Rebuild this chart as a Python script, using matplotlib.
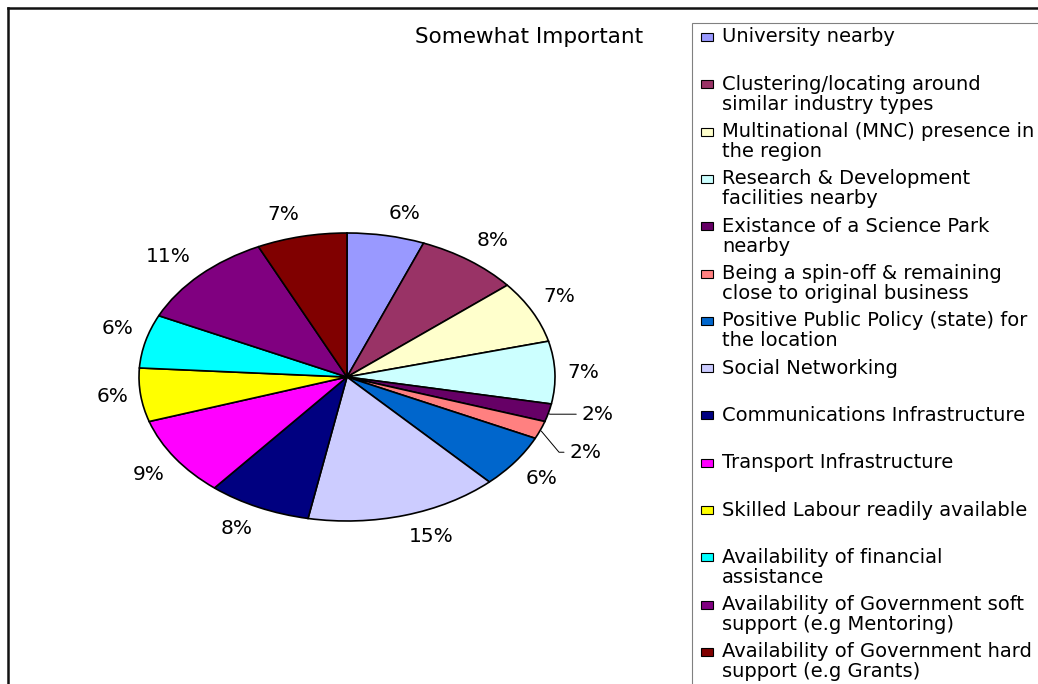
import numpy as np
import matplotlib
matplotlib.use("Agg")
import matplotlib.pyplot as plt
from matplotlib.patches import Rectangle
from matplotlib.lines import Line2D

plt.rcParams['font.family'] = ['DejaVu Sans']

# Survey shares, "Somewhat Important"
factors = [
    "University nearby",
    "Clustering/locating around\nsimilar industry types",
    "Multinational (MNC) presence in\nthe region",
    "Research & Development\nfacilities nearby",
    "Existance of a Science Park\nnearby",
    "Being a spin-off & remaining\nclose to original business",
    "Positive Public Policy (state) for\nthe location",
    "Social Networking",
    "Communications Infrastructure",
    "Transport Infrastructure",
    "Skilled Labour readily available",
    "Availability of financial\nassistance",
    "Availability of Government soft\nsupport (e.g Mentoring)",
    "Availability of Government hard\nsupport (e.g Grants)",
]
shares = [6, 8, 7, 7, 2, 2, 6, 15, 8, 9, 6, 6, 11, 7]
colors = ['#9999FF', '#993366', '#FFFFCC', '#CCFFFF', '#660066', '#FF8080',
          '#0066CC', '#CCCCFF', '#000080', '#FF00FF', '#FFFF00', '#00FFFF',
          '#800080', '#800000']

W, H = 1038, 684
fig = plt.figure(figsize=(W / 100, H / 100), dpi=100)


def fx(x):
    return x / W


def fy(y):
    return 1 - y / H


# outer chart border (left and top edges visible)
fig.add_artist(Line2D([fx(8), fx(8)], [0, fy(8)], color='#111111', lw=1.8))
fig.add_artist(Line2D([fx(8), 1], [fy(8), fy(8)], color='#111111', lw=1.8))

# pie, stretched into an ellipse
cx, cy, rx, ry = 347, 377, 208, 144
ax = fig.add_axes([fx(cx - rx), fy(cy + ry), 2 * rx / W, 2 * ry / H])
wedges, _ = ax.pie(shares, colors=colors, startangle=90, counterclock=False,
                   wedgeprops=dict(edgecolor='black', linewidth=1.2))
ax.set_aspect('auto')
ax.set_xlim(-1, 1)
ax.set_ylim(-1, 1)
ax.axis('off')

# percentage labels outside the rim
leader = {4: (24, -1), 5: (21, -16)}
for i, w in enumerate(wedges):
    mid = np.deg2rad((w.theta1 + w.theta2) / 2)
    c, s = np.cos(mid), np.sin(mid)
    txt = f"{shares[i]}%"
    if i in leader:
        ax.annotate(txt, xy=(c, s), xytext=leader[i], textcoords='offset points',
                    ha='left', va='center', fontsize=14.5,
                    arrowprops=dict(arrowstyle='-', color='black', lw=0.7,
                                    shrinkA=2, shrinkB=1,
                                    connectionstyle='angle,angleA=0,angleB=-50,rad=0'))
        continue
    ha = 'left' if c >= 0 else 'right'
    if s > 0.2:
        va = 'bottom'
    elif s < -0.3:
        va = 'top'
    else:
        va = 'center'
    ax.annotate(txt, xy=(c, s), xytext=(c * 9, s * 9), textcoords='offset points',
                ha=ha, va=va, fontsize=14.5)

fig.text(fx(529), fy(37), "Somewhat Important", ha='center', va='center', fontsize=15.5)

# legend box
fig.add_artist(Rectangle((fx(692), -0.05), 1, fy(23) + 0.05, transform=fig.transFigure,
                         facecolor='white', edgecolor='#808080', lw=0.8, zorder=0))

row0, step, line_h = 37, 47.3, 20
for i, label in enumerate(factors):
    yc = row0 + i * step
    fig.add_artist(Rectangle((fx(701), fy(yc + 4)), 12 / W, 8 / H,
                             transform=fig.transFigure, facecolor=colors[i],
                             edgecolor='black', lw=0.8))
    for j, line in enumerate(label.split('\n')):
        fig.text(fx(722), fy(yc + j * line_h), line, ha='left', va='center', fontsize=14)

fig.savefig('out.png', dpi=100)
